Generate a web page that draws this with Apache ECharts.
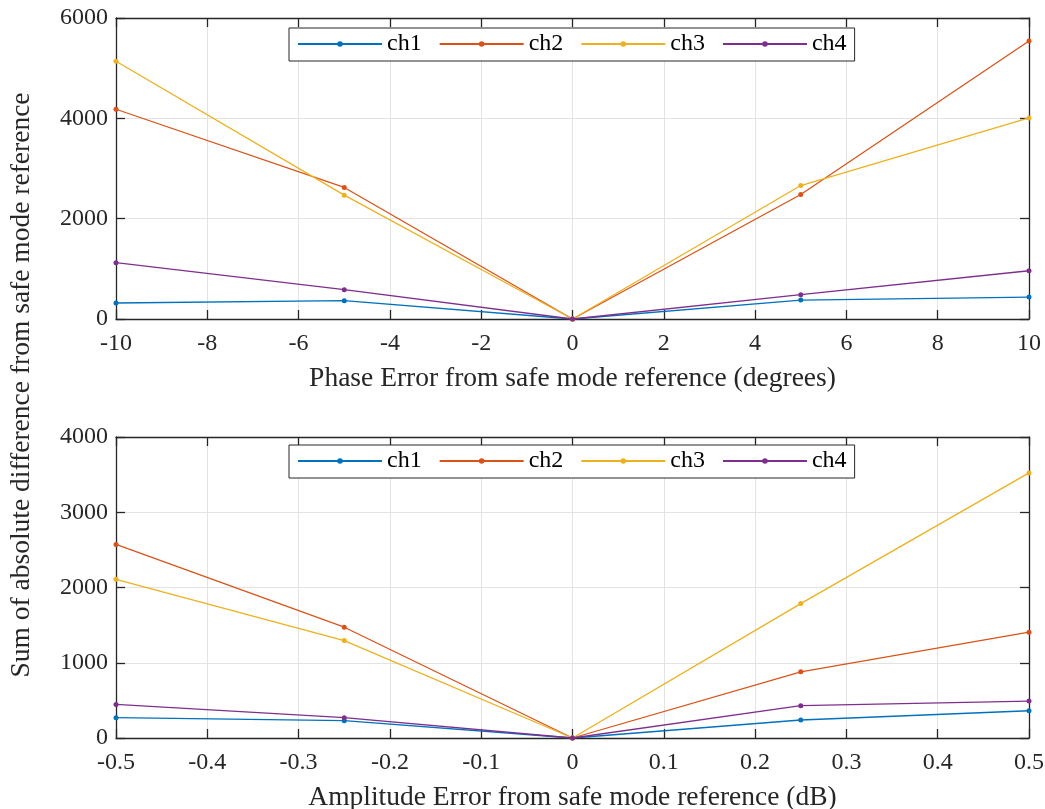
<!DOCTYPE html>
<html><head><meta charset="utf-8">
<script src="https://cdn.jsdelivr.net/npm/echarts@6/dist/echarts.min.js"></script>
<style>html,body{margin:0;padding:0;background:#fff}#c{width:1045px;height:809px}</style>
</head><body><div id="c"></div>
<script>
const seriesNames = ['ch1', 'ch2', 'ch3', 'ch4'];
const colors = ['#0072BD', '#D95319', '#EDB120', '#7E2F8E'];

const phaseX = [-10, -5, 0, 5, 10];
const phaseCh1 = [319, 365, 0, 378, 438];
const phaseCh2 = [4181, 2622, 0, 2482, 5542];
const phaseCh3 = [5137, 2469, 0, 2661, 4009];
const phaseCh4 = [1122, 584, 0, 484, 962];

const ampX = [-0.5, -0.25, 0, 0.25, 0.5];
const ampCh1 = [270, 230, 0, 239, 362];
const ampCh2 = [2572, 1472, 0, 880, 1406];
const ampCh3 = [2108, 1295, 0, 1786, 3523];
const ampCh4 = [446, 270, 0, 429, 491];

const phaseTicks = {min: -10, max: 10, interval: 2};
const ampTicks = {min: -0.5, max: 0.5, interval: 0.1};
const phaseY = {min: 0, max: 6000, interval: 2000};
const ampY = {min: 0, max: 4000, interval: 1000};

const xTitleTop = 'Phase Error from safe mode reference (degrees)';
const xTitleBottom = 'Amplitude Error from safe mode reference (dB)';
const yTitle = 'Sum of absolute difference from safe mode reference';

const FONT = 'Liberation Serif';
const AX = '#262626';
const TICKFS = 24;
const TITLEFS = 27.5;

function pairs(xs, ys) { return xs.map((x, i) => [x, ys[i]]); }

function mkX(grid, rng, pos, title, fmt) {
  const main = pos === 'bottom';
  return {
    type: 'value', gridIndex: grid, position: pos,
    min: rng.min, max: rng.max, interval: rng.interval,
    name: main ? title : '', nameLocation: 'middle', nameGap: 46,
    nameTextStyle: {fontFamily: FONT, fontSize: TITLEFS, color: AX},
    axisLine: {show: true, onZero: false, lineStyle: {color: AX, width: 1.3}},
    axisTick: {show: true, inside: true, length: 9, lineStyle: {color: AX, width: 1.3}},
    axisLabel: {show: main, fontFamily: FONT, fontSize: TICKFS, color: AX, margin: 13, formatter: fmt},
    splitLine: {show: main, lineStyle: {color: '#e3e3e3', width: 1}}
  };
}
function mkY(grid, rng, pos) {
  const main = pos === 'left';
  return {
    type: 'value', gridIndex: grid, position: pos,
    min: rng.min, max: rng.max, interval: rng.interval,
    axisLine: {show: true, onZero: false, lineStyle: {color: AX, width: 1.3}},
    axisTick: {show: true, inside: true, length: 9, lineStyle: {color: AX, width: 1.3}},
    axisLabel: {show: main, fontFamily: FONT, fontSize: TICKFS, color: AX, margin: 8,
                formatter: v => String(Math.round(v))},
    splitLine: {show: main, lineStyle: {color: '#e3e3e3', width: 1}}
  };
}
const ampFmt = v => (Math.abs(v) < 1e-9 ? '0' : v.toFixed(1));
const phaseFmt = v => String(Math.round(v));

const topData = [phaseCh1, phaseCh2, phaseCh3, phaseCh4];
const botData = [ampCh1, ampCh2, ampCh3, ampCh4];

const series = [];
topData.forEach((d, i) => series.push({
  name: seriesNames[i], type: 'line', xAxisIndex: 0, yAxisIndex: 0,
  data: pairs(phaseX, d), symbol: 'circle', symbolSize: 5,
  lineStyle: {width: 1.3, color: colors[i]}, itemStyle: {color: colors[i]}, z: 3 + i
}));
botData.forEach((d, i) => series.push({
  name: seriesNames[i], type: 'line', xAxisIndex: 2, yAxisIndex: 2,
  data: pairs(ampX, d), symbol: 'circle', symbolSize: 5,
  lineStyle: {width: 1.3, color: colors[i]}, itemStyle: {color: colors[i]}, z: 3 + i
}));

const legendBase = {
  data: seriesNames, orient: 'horizontal', left: 289,
  itemWidth: 84, itemHeight: 7, itemGap: 17,
  borderColor: AX, borderWidth: 1, padding: [4, 8, 5, 8],
  backgroundColor: '#fff',
  textStyle: {fontFamily: FONT, fontSize: TICKFS, color: '#000', padding: [0, 0, 0, 0]},
  selectedMode: false
};

const chart = echarts.init(document.getElementById('c'), null, {renderer: 'canvas'});
chart.setOption({
  backgroundColor: '#fff',
  color: colors,
  animation: false,
  grid: [
    {left: 116, right: 16, top: 18, height: 301, outerBoundsMode: 'none', containLabel: false},
    {left: 116, right: 16, top: 437, height: 301, outerBoundsMode: 'none', containLabel: false}
  ],
  xAxis: [
    mkX(0, phaseTicks, 'bottom', xTitleTop, phaseFmt),
    mkX(0, phaseTicks, 'top', '', phaseFmt),
    mkX(1, ampTicks, 'bottom', xTitleBottom, ampFmt),
    mkX(1, ampTicks, 'top', '', ampFmt)
  ],
  yAxis: [
    mkY(0, phaseY, 'left'),
    mkY(0, phaseY, 'right'),
    mkY(1, ampY, 'left'),
    mkY(1, ampY, 'right')
  ],
  legend: [
    Object.assign({}, legendBase, {top: 28}),
    Object.assign({}, legendBase, {top: 445})
  ],
  graphic: [{
    type: 'text', x: 22, y: 385, rotation: Math.PI / 2,
    style: {text: yTitle, fontFamily: FONT, fontSize: TITLEFS, fill: AX, align: 'center', verticalAlign: 'middle'}
  }],
  series: series
});
</script></body></html>
